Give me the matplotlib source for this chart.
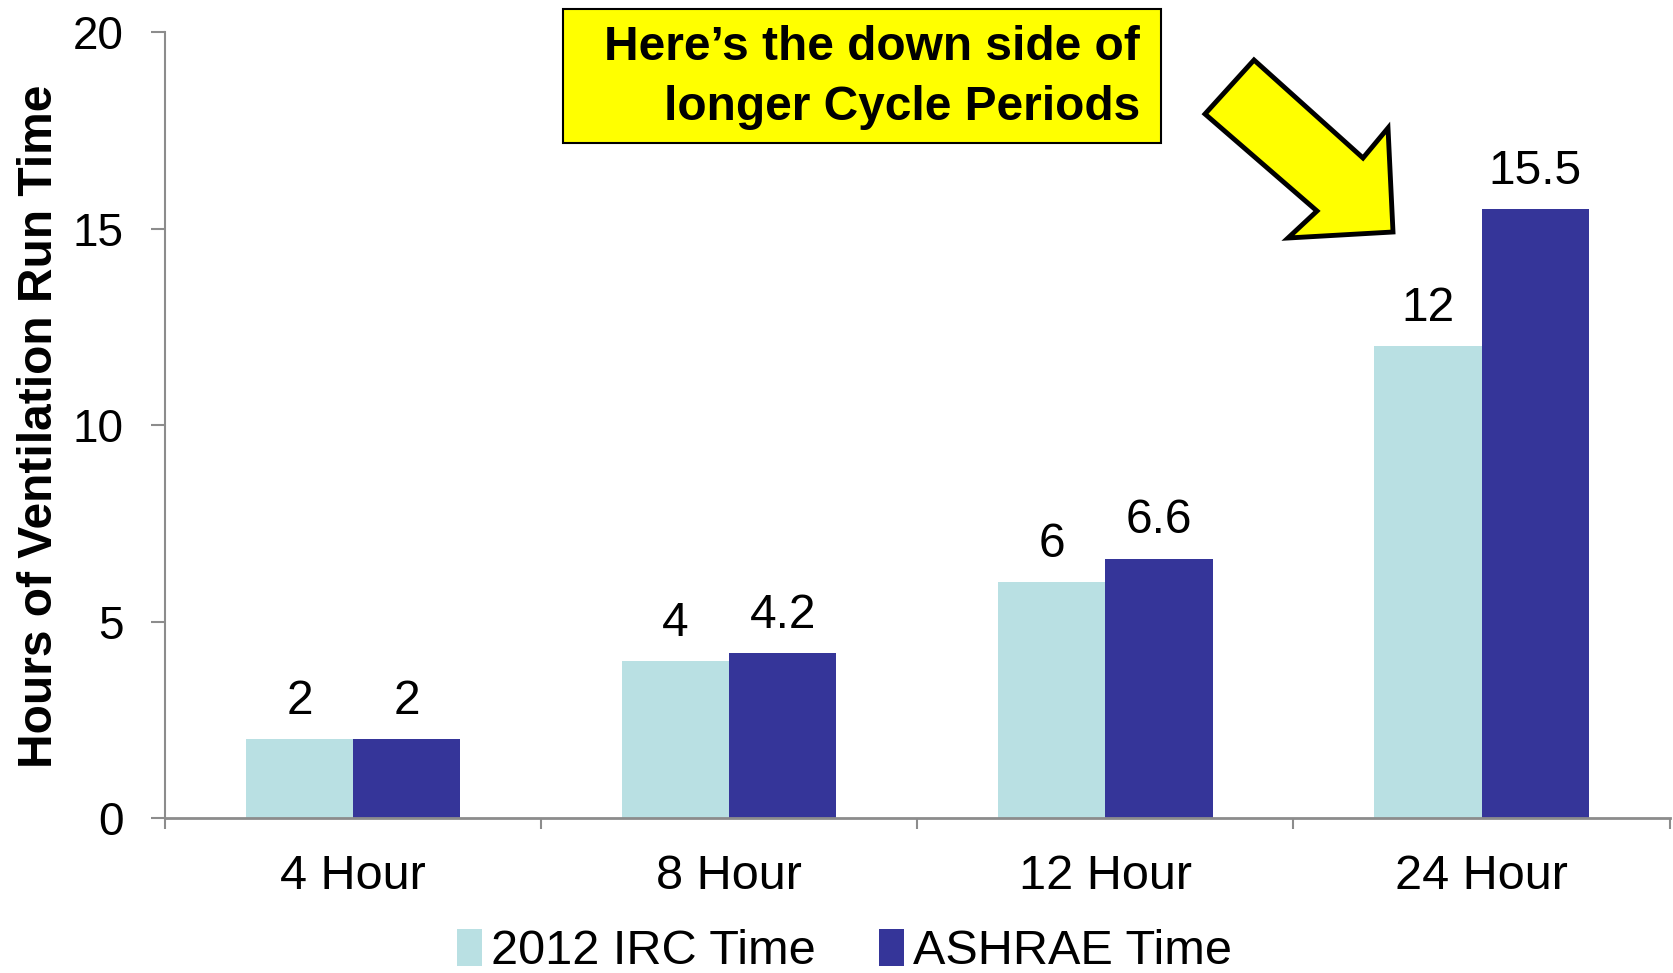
import matplotlib
matplotlib.use('Agg')
from matplotlib import pyplot as plt
from matplotlib.patches import Polygon, Rectangle
import numpy as np

plt.rcParams['font.family'] = ['Liberation Sans', 'DejaVu Sans']

# data
categories = ['4 Hour', '8 Hour', '12 Hour', '24 Hour']
irc_time = [2, 4, 6, 12]
ashrae_time = [2, 4.2, 6.6, 15.5]
series_names = ['2012 IRC Time', 'ASHRAE Time']

light = '#B9E0E3'
dark = '#353599'
axis_grey = '#8C8C8C'

fig = plt.figure(figsize=(16.73, 9.73), dpi=100)
ax = fig.add_axes([0.0986, 0.1593, 0.8994, 0.8077])

x = np.arange(len(categories))
w = 0.285
b1 = ax.bar(x - w / 2, irc_time, w, color=light, label=series_names[0])
b2 = ax.bar(x + w / 2, ashrae_time, w, color=dark, label=series_names[1])

# value labels above bars
for bars, vals in ((b1, irc_time), (b2, ashrae_time)):
    for r, v in zip(bars, vals):
        ax.annotate('%g' % v, (r.get_x() + r.get_width() / 2, v),
                    xytext=(0, 11), textcoords='offset points',
                    ha='center', va='bottom', fontsize=34.5)

ax.set_xlim(-0.5, len(categories) - 0.5)
ax.set_ylim(0, 20)
ax.set_yticks([0, 5, 10, 15, 20])
ax.tick_params(axis='y', labelsize=33, length=10, width=1.5, color=axis_grey, pad=20)

ax.set_xticks(x)
ax.set_xticklabels(categories)
ax.set_xticks(np.arange(-0.5, len(categories), 1), minor=True)
ax.tick_params(axis='x', which='major', length=0, labelsize=35, pad=26)
ax.tick_params(axis='x', which='minor', length=8, width=1.5, color=axis_grey)

for s in ('top', 'right'):
    ax.spines[s].set_visible(False)
ax.spines['left'].set_color(axis_grey)
ax.spines['bottom'].set_color(axis_grey)
ax.spines['left'].set_linewidth(1.5)
ax.spines['bottom'].set_linewidth(2)

fig.text(0.0235, 0.562, 'Hours of Ventilation Run Time', rotation=90,
         ha='center', va='center', fontsize=34.5, fontweight='bold')

leg = fig.legend(loc='center', bbox_to_anchor=(0.505, 0.022), ncol=2,
                 frameon=False, fontsize=35, handlelength=0.5,
                 handleheight=0.8, handletextpad=0.2, columnspacing=1.3)

# call-out box and arrow (figure pixel positions)
W, H = 1673.0, 973.0
box = Rectangle((563 / W, 1 - 143 / H), (1161 - 563) / W, (143 - 8.5) / H,
                transform=fig.transFigure, facecolor='#FFFF00',
                edgecolor='black', linewidth=1.5)
fig.patches.append(box)
fig.text(1140 / W, 1 - 48 / H, "Here\u2019s the down side of",
         ha='right', va='center', fontsize=34.5, fontweight='bold')
fig.text(1140 / W, 1 - 107 / H, "longer Cycle Periods",
         ha='right', va='center', fontsize=34.5, fontweight='bold')

pts = [(1254, 60), (1205, 114), (1317, 211), (1288, 238),
       (1393, 232), (1388, 128), (1363, 158)]
arrow = Polygon([(px / W, 1 - py / H) for px, py in pts], closed=True,
                transform=fig.transFigure, facecolor='#FFFF00',
                edgecolor='black', linewidth=3.5, joinstyle='miter')
fig.patches.append(arrow)

fig.savefig('out.png', dpi=100)
